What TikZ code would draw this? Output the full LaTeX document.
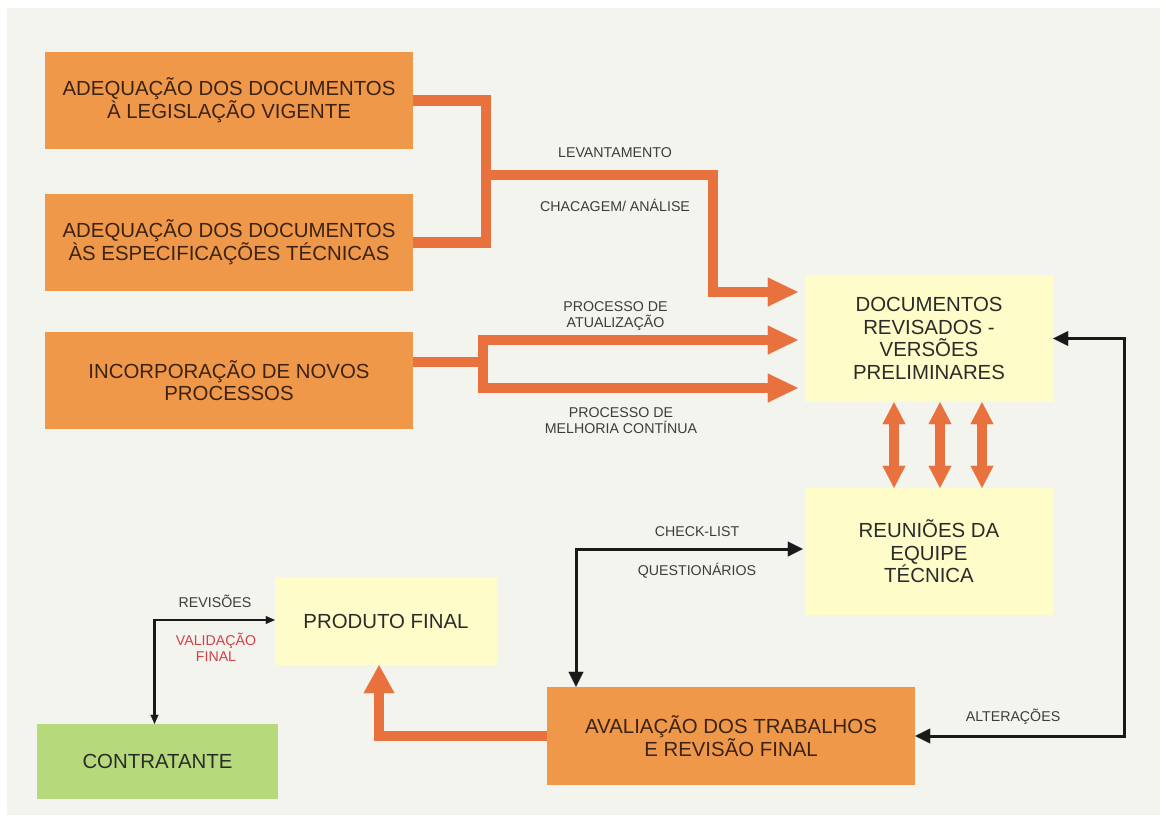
\documentclass[tikz,border=0pt]{standalone}
\usepackage{fontspec}
\setmainfont{Liberation Sans}
\usetikzlibrary{arrows.meta,calc}
\definecolor{panelbg}{HTML}{F4F4EE}
\definecolor{boxorange}{HTML}{F0984A}
\definecolor{arrorange}{HTML}{E8713D}
\definecolor{boxyellow}{HTML}{FEFCC8}
\definecolor{boxgreen}{HTML}{B6D97C}
\definecolor{txtbrown}{HTML}{3B2314}
\definecolor{txtdark}{HTML}{2B2B2B}
\definecolor{txtlabel}{HTML}{3C3C3C}
\definecolor{txtred}{HTML}{D2404A}
\begin{document}
\begin{tikzpicture}[x=1pt,y=-1pt,
 box/.style={inner sep=0pt, align=center, font=\fontsize{20.4}{21.5}\selectfont},
 obox/.style={box, fill=boxorange, text=txtbrown},
 ybox/.style={box, fill=boxyellow, text=txtdark, font=\fontsize{20.4}{22.5}\selectfont},
 gbox/.style={box, fill=boxgreen, text=txtdark},
 lbl/.style={inner sep=0pt, align=center, text=txtlabel, font=\fontsize{14.2}{16}\selectfont},
 oline/.style={draw=arrorange, line width=10.5pt, line join=miter},
 oarrow/.style={oline, -{Triangle[width=29pt,length=30pt,line width=0.1pt]}},
 oarrowb/.style={oline, -{Triangle[width=31pt,length=28pt,line width=0.1pt]}},
 odbl/.style={draw=arrorange, line width=10pt, {Triangle[width=23pt,length=22pt,line width=0.1pt]}-{Triangle[width=23pt,length=22pt,line width=0.1pt]}},
 barrow/.style={draw=black!90, line width=3pt, line join=miter, {Triangle[width=15pt,length=15pt,line width=0.1pt]}-{Triangle[width=15pt,length=15pt,line width=0.1pt]}},
 sarrow/.style={draw=black!90, line width=2.4pt, line join=miter, {Triangle[width=8pt,length=9pt,line width=0.1pt]}-{Triangle[width=8pt,length=9pt,line width=0.1pt]}},
]
\useasboundingbox (0,0) rectangle (1166,823);
\fill[white] (0,0) rectangle (1166,823);
\fill[panelbg] (7,8) rectangle (1160,815);

% boxes
\node[obox, minimum width=368pt, minimum height=97pt] (a1) at (229,100.5) {ADEQUAÇÃO DOS DOCUMENTOS\\À LEGISLAÇÃO VIGENTE};
\node[obox, minimum width=368pt, minimum height=97pt] (a2) at (229,242.5) {ADEQUAÇÃO DOS DOCUMENTOS\\ÀS ESPECIFICAÇÕES TÉCNICAS};
\node[obox, minimum width=368pt, minimum height=97pt] (a3) at (229,380.5) {INCORPORAÇÃO DE NOVOS\\PROCESSOS};
\node[ybox, minimum width=248pt, minimum height=127pt] (doc) at (929,338.5) {DOCUMENTOS\\REVISADOS -\\VERSÕES\\PRELIMINARES};
\node[ybox, minimum width=248pt, minimum height=127pt] (reun) at (929,551.5) {REUNIÕES DA\\EQUIPE\\TÉCNICA};
\node[ybox, minimum width=222pt, minimum height=88pt] (prod) at (386,621) {PRODUTO FINAL};
\node[gbox, minimum width=241pt, minimum height=75pt] (cont) at (157.5,761.5) {CONTRATANTE};
\node[obox, minimum width=368pt, minimum height=98pt] (aval) at (731,736) {AVALIAÇÃO DOS TRABALHOS\\E REVISÃO FINAL};

% junction coordinates
\coordinate (j1) at (486,175);
\coordinate (j2) at (713,292);
\coordinate (j3) at (483,362);
\coordinate (k1) at (483,340);
\coordinate (k2) at (483,388);
\coordinate (cr) at (1124,500);

% orange connectors
\draw[oline] (a1.east) -| (j1) |- (a2.east);
\draw[oarrow, shorten >=7pt] (j1) -| (j2) -- (doc.west |- j2);
\draw[oline] (a3.east |- j3) -- (j3);
\draw[oarrow, shorten >=7pt] (j3) |- (doc.west |- k1);
\draw[oarrow, shorten >=7pt] (j3) |- (doc.west |- k2);
\draw[odbl] ([xshift=-35pt]doc.south) -- ([xshift=-35pt]reun.north);
\draw[odbl] ([xshift=11pt]doc.south) -- ([xshift=11pt]reun.north);
\draw[odbl] ([xshift=53pt]doc.south) -- ([xshift=53pt]reun.north);
\draw[oarrowb] (aval.west) -| ([xshift=-7pt]prod.south);

% black connectors
\draw[barrow, shorten >=2pt] ([xshift=-155pt]aval.north) |- ([yshift=2.5pt]reun.west);
\draw[barrow] (aval.east) -| (cr) |- (doc.east);
\draw[sarrow] ([xshift=-3pt]cont.north) |- ([yshift=1pt]prod.west);

% labels
\node[lbl] (lLev) at (615,152.5) {LEVANTAMENTO};
\node[lbl] (lCha) at (615,205) {CHACAGEM/ ANÁLISE};
\node[lbl] (lAtu) at (615.5,316) {PROCESSO DE\\ATUALIZAÇÃO};
\node[lbl] (lMel) at (621,420.5) {PROCESSO DE\\MELHORIA CONTÍNUA};
\node[lbl] (lChk) at (697,532) {CHECK-LIST};
\node[lbl] (lQue) at (697,570.5) {QUESTIONÁRIOS};
\node[lbl] (lAlt) at (1013,717) {ALTERAÇÕES};
\node[lbl] (lRev) at (215,601) {REVISÕES};
\node[lbl, text=txtred] (lVal) at (216,647) {VALIDAÇÃO\\FINAL};
\end{tikzpicture}
\end{document}
